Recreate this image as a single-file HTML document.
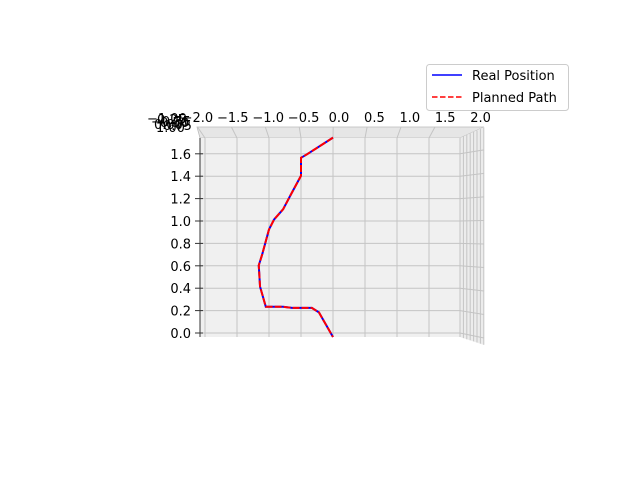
<!DOCTYPE html>
<html><head><meta charset="utf-8"><style>
body{margin:0;background:#fff;}
svg{font-family:"DejaVu Sans","Liberation Sans",sans-serif;}
</style></head><body>
<svg width="640" height="480" viewBox="0 0 640 480">
<g id="pane">
  <polygon points="197,127 484,127 460,138 200,138" fill="#e6e6e6" stroke="#bbb" stroke-width="0.8"/>
  <polygon points="460,138 484,127 484,345 460,337" fill="#ececec"/>
  <rect x="200" y="138" width="260" height="199" fill="#f0f0f0"/>
</g>
<g id="grid"></g>
<g id="xticks"></g>
<g id="yticks"></g>
<g font-size="13" fill="#000">
  <text x="147" y="123">−1.00</text><text x="151" y="126">−0.75</text><text x="154" y="129">0.00</text>
  <text x="157" y="124">0.25</text><text x="160" y="127">0.50</text><text x="163" y="130">0.75</text>
  <text x="156" y="132">1.00</text>
</g>
<line x1="200" y1="138" x2="200" y2="337" stroke="#333" stroke-width="1"/>
<g id="series"></g>
<g>
  <rect x="426.5" y="64.5" width="142" height="46" rx="3" fill="#fff" stroke="#ccc"/>
  <line x1="432" y1="75" x2="462" y2="75" stroke="#0000ff" stroke-width="1.5"/>
  <text x="472" y="80" font-size="13">Real Position</text>
  <line x1="432" y1="97" x2="462" y2="97" stroke="#ff0000" stroke-width="1.5" stroke-dasharray="5.5,2.5"/>
  <text x="472" y="102" font-size="13">Planned Path</text>
</g>
</svg>
<script>
const xTicks=[-2.0,-1.5,-1.0,-0.5,0.0,0.5,1.0,1.5,2.0];
const yTicks=[0.0,0.2,0.4,0.6,0.8,1.0,1.2,1.4,1.6];
const realX=[0,-0.41,-0.5,-0.5,-0.66,-0.78,-0.92,-1.0,-1.11,-1.16,-1.14,-1.05,-0.78,-0.64,-0.33,-0.22,0];
const realY=[1.78,1.63,1.60,1.44,1.27,1.14,1.05,0.96,0.73,0.64,0.45,0.27,0.27,0.26,0.26,0.22,0];
const planX=[0,-0.41,-0.5,-0.5,-0.66,-0.78,-0.92,-1.0,-1.11,-1.16,-1.14,-1.05,-0.78,-0.64,-0.33,-0.22,0];
const planY=[1.78,1.63,1.60,1.44,1.27,1.14,1.05,0.96,0.73,0.64,0.45,0.27,0.27,0.26,0.26,0.22,0];
const NS='http://www.w3.org/2000/svg';
function sx(v){return 333+v*64;}
function sy(v){return 337-v*112;}
function lx(v){return 339+v*70.8;}
function mk(t,a,p){const e=document.createElementNS(NS,t);for(const k in a)e.setAttribute(k,a[k]);p.appendChild(e);return e;}
const grid=document.getElementById('grid');
xTicks.forEach(v=>{const x=sx(v);if(x<200||x>460)return;
  const l=mk('line',{x1:x,y1:138,x2:x,y2:337,stroke:'#c4c4c4','stroke-width':1},grid);
  
  
  const l2=mk('line',{x1:x,y1:138,x2:x+(x-330)*0.06,y2:127,stroke:'#c4c4c4','stroke-width':1},grid);
  
  });
yTicks.forEach(v=>{const y=sy(v)-4;
  const l=mk('line',{x1:200,y1:y,x2:460,y2:y,stroke:'#c4c4c4','stroke-width':1},grid);
  
  
  const l2=mk('line',{x1:460,y1:y,x2:484,y2:y+(y-232)*0.05,stroke:'#c4c4c4','stroke-width':1},grid);
  
  });
for(let i=0;i<8;i++){const x=460+i*3.4;
  const l=mk('line',{x1:x,y1:138-i*1.5,x2:x,y2:337+i*1.1,stroke:'#c4c4c4','stroke-width':1},grid);
  
  }
const xt=document.getElementById('xticks');
xTicks.forEach(v=>{const t=mk('text',{x:lx(v),y:122,'font-size':13,'text-anchor':'middle'},xt);
  t.textContent=(v<0?'−':'')+Math.abs(v).toFixed(1);
  
  });
const yt=document.getElementById('yticks');
yTicks.forEach(v=>{const y=sy(v)-4;
  const t=mk('text',{x:191,y:y+5,'font-size':13,'text-anchor':'end'},yt);
  t.textContent=v.toFixed(1);
  
  
  const m=mk('line',{x1:195,y1:y,x2:203,y2:y,stroke:'#333','stroke-width':1},yt);
  
  });
const s=document.getElementById('series');
const pr=mk('polyline',{points:realX.map((x,i)=>sx(x)+','+sy(realY[i])).join(' '),fill:'none',stroke:'#0000ff','stroke-width':2},s);


const pp=mk('polyline',{points:planX.map((x,i)=>sx(x)+','+sy(planY[i])).join(' '),fill:'none',stroke:'#ff0000','stroke-width':2,'stroke-dasharray':'7,2'},s);


</script>
</body></html>
